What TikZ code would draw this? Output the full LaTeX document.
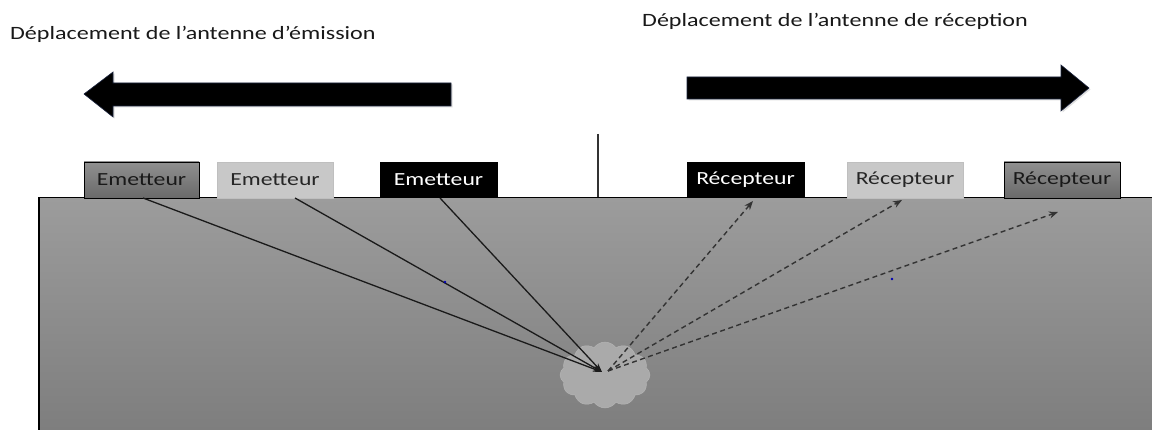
\documentclass[tikz,border=0pt]{standalone}
\usepackage{fontspec}
\setmainfont{Carlito}
\usetikzlibrary{shapes.symbols,arrows.meta,shadows}
\definecolor{groundtop}{HTML}{9C9C9C}
\definecolor{groundbot}{HTML}{7E7E7E}
\definecolor{darkbox}{HTML}{7C7C7C}
\definecolor{lightbox}{HTML}{C8C8C8}
\definecolor{cloudc}{HTML}{AAAAAA}
\definecolor{raycol}{HTML}{1A1A1A}
\definecolor{arrowedge}{HTML}{1C2540}
\tikzset{
  title/.style={anchor=base west, inner sep=0pt, font=\fontsize{18.8}{20}\selectfont, text=black!90},
  antbox/.style={minimum height=36pt, inner sep=0pt, font=\fontsize{18.5}{20}\selectfont},
  darkant/.style={antbox, draw=black, line width=0.9pt, top color=darkbox!85!white, bottom color=darkbox!85!black, text=black!90},
  lightant/.style={antbox, draw=black!25, line width=0.8pt, fill=lightbox, text=black!85},
  blackant/.style={antbox, draw=black, fill=black, text=white},
  ray/.style={draw=raycol, line width=1.3pt, -{Stealth[length=9pt,width=6pt]}},
  echo/.style={draw=black!80, line width=1.4pt, dash pattern=on 5pt off 3.5pt, -{Stealth[length=9pt,width=7pt]}},
  bigarrow/.style={fill=black, draw=arrowedge, line width=0.6pt, drop shadow={shadow xshift=1.5pt, shadow yshift=-1.5pt, opacity=0.25}},
}
\newcommand{\wide}[1]{\scalebox{1.28}[1]{#1}}
\begin{document}
\begin{tikzpicture}[x=1pt,y=-1pt]
\useasboundingbox (0,0) rectangle (1152,430);
\fill[white] (0,0) rectangle (1152,430);
% ground
\shade[top color=groundtop, bottom color=groundbot] (39,197.5) rectangle (1152,430);
\draw[black, line width=1.1pt] (39,430) -- (39,197.5) -- (1152,197.5);
% separator
\draw[black!80, line width=1.3pt] (598,134) -- (598,197.5);
% titles
\node[title] (t1) at (10,40) {\wide{Déplacement de l’antenne d’émission}};
\node[title] (t2) at (642,27) {\wide{Déplacement de l’antenne de réception}};
% big arrows
\path[bigarrow] (84,94) -- (113,72) -- (113,83) -- (451,83) -- (451,106) -- (113,106) -- (113,117) -- cycle;
\path[bigarrow] (687,77) -- (1061,77) -- (1061,65) -- (1089,88) -- (1061,111) -- (1061,99) -- (687,99) -- cycle;
% antennas
\node[darkant, minimum width=115pt] (e1) at (141.5,180) {\wide{Emetteur}};
\node[lightant, minimum width=116pt] (e2) at (275,180) {\wide{Emetteur}};
\node[blackant, minimum width=117pt, minimum height=35pt] (e3) at (438.5,179.5) {\wide{Emetteur}};
\node[blackant, minimum width=117pt, minimum height=35pt] (r1) at (745.5,179.5) {\wide{Récepteur}};
\node[lightant, minimum width=116pt] (r2) at (905,180) {\wide{Récepteur}};
\node[darkant, minimum width=116pt] (r3) at (1062,180) {\wide{Récepteur}};
% target cloud
\node[cloud, cloud puffs=12, cloud puff arc=110, aspect=1.4, minimum width=90pt, minimum height=66pt, fill=cloudc, draw=cloudc!85!white, inner sep=0pt] (cl) at (605,375) {};
% ray endpoints
\coordinate (s1) at (143,198);
\coordinate (s2) at (295,198);
\coordinate (s3) at (440,198);
\coordinate (p) at (602,372);
\coordinate (q) at (608,371);
\coordinate (d1) at (753,201);
\coordinate (d2) at (902,200);
\coordinate (d3) at (1058,212);
\draw[ray] (s1) -- (p);
\draw[ray] (s2) -- (p);
\draw[ray] (s3) -- (p);
\draw[echo] (q) -- (d1);
\draw[echo] (q) -- (d2);
\draw[echo] (q) -- (d3);
% tiny blue marks
\fill[blue!70!black] (445,282) circle (1.3pt);
\fill[blue!70!black] (892,279) circle (1.3pt);
\end{tikzpicture}
\end{document}
